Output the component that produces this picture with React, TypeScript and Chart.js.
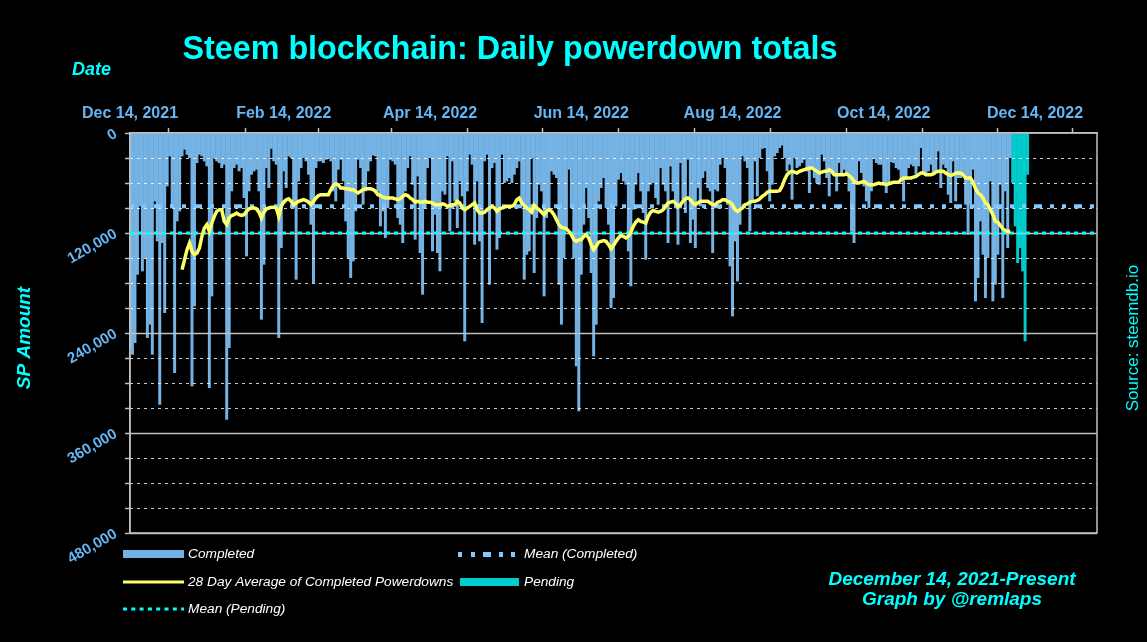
import React, { useEffect, useRef } from 'react';
import { Chart, registerables } from 'chart.js';

Chart.register(...registerables);

const FONT = '"Liberation Sans", Arial, Helvetica, sans-serif';
const CYAN = '#00ffff';
const AXIS_BLUE = '#66b5f5';
const BAR_BLUE = '#74b3e4';
const MEAN_BLUE = '#80c8ff';
const TEAL = '#00cccc';
const YELLOW = '#ffff66';
const GRID_SOLID = '#c0c0c0';

const TITLE = 'Steem blockchain: Daily powerdown totals';
const START_DATE = '2021-12-14';
const END_DATE = '2023-01-08';

// month tick marks on the date axis, every other one labelled
const monthTickDates = [
  '2021-12-14', '2022-01-14', '2022-02-14', '2022-03-14', '2022-04-14', '2022-05-14',
  '2022-06-14', '2022-07-14', '2022-08-14', '2022-09-14', '2022-10-14', '2022-11-14', '2022-12-14',
];
const xTickLabels = [
  'Dec 14, 2021', 'Feb 14, 2022', 'Apr 14, 2022', 'Jun 14, 2022', 'Aug 14, 2022', 'Oct 14, 2022', 'Dec 14, 2022',
];

const yTickValues = [
  0, 30000, 60000, 90000, 120000, 150000, 180000, 210000, 240000,
  270000, 300000, 330000, 360000, 390000, 420000, 450000, 480000,
];
const yLabelledValues = [0, 120000, 240000, 360000, 480000];
const yTickLabels = ['0', '120,000', '240,000', '360,000', '480,000'];

// Completed daily powerdowns, thousands of SP, one per day from Dec 14, 2021
const completedStart = '2021-12-14';
const completedK = [
  258, 266, 252, 170, 88, 166, 150, 246, 230, 266,
  82, 130, 326, 132, 216, 64, 28, 90, 288, 106,
  94, 28, 20, 26, 30, 304, 208, 36, 26, 28,
  34, 40, 306, 196, 30, 34, 36, 42, 38, 344,
  258, 70, 42, 38, 46, 42, 78, 148, 70, 50,
  46, 44, 70, 224, 158, 42, 66, 19, 34, 38,
  246, 138, 46, 66, 28, 30, 90, 176, 58, 42,
  30, 34, 50, 110, 180, 42, 34, 34, 36, 32,
  30, 34, 70, 82, 44, 32, 58, 106, 150, 174,
  154, 94, 32, 42, 86, 70, 46, 34, 27, 28,
  70, 112, 94, 126, 90, 32, 34, 38, 102, 110,
  132, 70, 42, 28, 62, 128, 52, 144, 194, 90,
  42, 30, 142, 98, 144, 166, 70, 74, 28, 118,
  34, 82, 114, 58, 76, 250, 70, 26, 38, 134,
  58, 130, 228, 34, 26, 182, 42, 36, 140, 126,
  26, 60, 58, 54, 60, 50, 42, 34, 82, 176,
  146, 142, 30, 168, 102, 62, 70, 196, 102, 90,
  46, 50, 54, 182, 230, 150, 118, 44, 90, 150,
  280, 334, 170, 110, 66, 102, 168, 268, 230, 82,
  66, 54, 90, 110, 210, 198, 88, 56, 48, 58,
  62, 142, 184, 92, 62, 48, 70, 96, 152, 70,
  62, 60, 78, 86, 42, 62, 70, 132, 40, 70,
  90, 134, 36, 80, 96, 32, 132, 104, 138, 66,
  88, 54, 46, 66, 70, 144, 68, 70, 38, 30,
  42, 86, 160, 220, 130, 178, 110, 28, 34, 42,
  118, 80, 34, 76, 30, 19, 18, 46, 82, 62,
  28, 24, 18, 15, 30, 46, 38, 80, 30, 42,
  40, 36, 32, 46, 72, 42, 54, 60, 62, 26,
  34, 54, 76, 46, 50, 70, 36, 50, 44, 50,
  70, 118, 132, 58, 34, 48, 64, 82, 90, 70,
  30, 36, 38, 38, 60, 72, 60, 35, 36, 42,
  44, 56, 82, 56, 42, 38, 40, 50, 40, 18,
  48, 50, 46, 38, 50, 46, 22, 66, 38, 42,
  74, 84, 34, 82, 54, 54, 50, 86, 122, 86,
  44, 202, 174, 106, 146, 198, 150, 58, 202, 182,
  146, 62, 198, 70, 138, 30,
];

// Pending powerdowns, thousands of SP, one per day from Dec 5, 2022
const pendingStart = '2022-12-05';
const pendingK = [60, 112, 156, 138, 166, 250, 50];

// 28 day average of completed powerdowns, thousands of SP, from Jan 4, 2022
const avgStart = '2022-01-04';
const avgK = [
  164, 152, 140, 132, 142, 146, 144, 138, 124,
  114, 110, 118, 108, 100, 94, 92, 92, 106, 110,
  102, 99, 98, 96, 98, 99, 98, 94, 91, 90,
  90, 91, 95, 102, 95, 91, 90, 89, 89, 90,
  100, 88, 83, 80, 79, 82, 86, 84, 82, 81,
  80, 81, 83, 86, 82, 78, 75, 74, 74, 74,
  74, 68, 63, 61, 62, 66, 66, 67, 67, 68,
  68, 70, 72, 70, 68, 67, 67, 67, 68, 70,
  74, 75, 77, 78, 78, 78, 78, 79, 80, 79,
  76, 74, 75, 78, 80, 83, 82, 83, 83, 82,
  83, 83, 84, 86, 86, 86, 85, 86, 88, 87,
  86, 86, 82, 84, 90, 92, 90, 88, 86, 84,
  92, 96, 96, 95, 92, 90, 88, 90, 94, 91,
  90, 89, 88, 88, 88, 86, 80, 78, 84, 87,
  90, 92, 95, 87, 90, 92, 95, 98, 94, 92,
  94, 98, 104, 110, 113, 114, 115, 118, 122, 128,
  130, 128, 128, 124, 122, 126, 134, 140, 136, 131,
  130, 129, 130, 134, 139, 135, 130, 126, 123, 124,
  126, 124, 119, 112, 107, 104, 106, 107, 108, 100,
  95, 93, 94, 95, 94, 92, 88, 84, 83, 82,
  84, 88, 86, 82, 79, 78, 80, 84, 86, 84,
  82, 82, 82, 82, 84, 86, 86, 83, 82, 80,
  80, 82, 83, 86, 92, 94, 92, 90, 86, 85,
  83, 82, 82, 81, 79, 76, 74, 71, 70, 70,
  70, 70, 69, 64, 56, 50, 47, 46, 47, 48,
  46, 45, 44, 43, 42, 42, 44, 46, 48, 47,
  46, 46, 44, 46, 50, 50, 50, 50, 50, 49,
  51, 54, 58, 60, 60, 59, 58, 60, 62, 62,
  62, 61, 60, 61, 61, 62, 61, 60, 59, 59,
  59, 56, 54, 54, 54, 54, 53, 52, 50, 48,
  48, 50, 50, 50, 49, 47, 46, 46, 46, 48,
  50, 51, 50, 48, 48, 48, 50, 54, 54, 54,
  59, 67, 72, 74, 78, 84, 86, 92, 98, 106,
  107, 111, 115, 117, 118, 118,
];

const meanCompleted = 88000;
const meanPending = 120000;

const DAY_MS = 86400000;
const dayIndex = (iso: string) =>
  Math.round((Date.parse(iso + 'T00:00:00Z') - Date.parse(START_DATE + 'T00:00:00Z')) / DAY_MS);

const LAST_DAY = dayIndex(END_DATE);
const monthTickIdx = monthTickDates.map(dayIndex);

const series = (startIso: string, valuesK: number[]) => {
  const s = dayIndex(startIso);
  return valuesK.map((v, i) => ({ x: s + i, y: v * 1000 }));
};

const frontGridPlugin = {
  id: 'frontGrid',
  afterDatasetDraw(chart: any, args: any) {
    if (args.index !== 3) return;
    const { ctx, chartArea } = chart;
    const y = chart.scales.y;
    ctx.save();
    for (const v of yTickValues) {
      if (v === 0) continue;
      const py = Math.round(y.getPixelForValue(v)) + 0.5;
      ctx.beginPath();
      if (yLabelledValues.includes(v)) {
        ctx.setLineDash([]);
        ctx.strokeStyle = GRID_SOLID;
        ctx.lineWidth = 1.5;
      } else {
        ctx.setLineDash([3, 4]);
        ctx.strokeStyle = 'rgba(255,255,255,0.8)';
        ctx.lineWidth = 1;
      }
      ctx.moveTo(chartArea.left, py);
      ctx.lineTo(chartArea.right, py);
      ctx.stroke();
    }
    ctx.setLineDash([]);
    ctx.strokeStyle = GRID_SOLID;
    ctx.lineWidth = 1.5;
    ctx.strokeRect(chartArea.left, chartArea.top, chartArea.right - chartArea.left, chartArea.bottom - chartArea.top);
    ctx.restore();
  },
};

const textPlugin = {
  id: 'texts',
  afterDraw(chart: any) {
    const ctx = chart.ctx;
    ctx.save();
    ctx.fillStyle = CYAN;
    ctx.textBaseline = 'alphabetic';
    ctx.textAlign = 'center';
    ctx.font = `bold 32.3px ${FONT}`;
    ctx.fillText(TITLE, 510, 59);

    ctx.textAlign = 'left';
    ctx.font = `italic bold 18px ${FONT}`;
    ctx.fillText('Date', 72, 75);

    ctx.save();
    ctx.translate(25, 338);
    ctx.rotate(-Math.PI / 2);
    ctx.textAlign = 'center';
    ctx.textBaseline = 'middle';
    ctx.font = `italic bold 19px ${FONT}`;
    ctx.fillText('SP Amount', 0, 0);
    ctx.restore();

    ctx.save();
    ctx.translate(1133, 338);
    ctx.rotate(-Math.PI / 2);
    ctx.textAlign = 'center';
    ctx.textBaseline = 'middle';
    ctx.font = `17px ${FONT}`;
    ctx.fillText('Source: steemdb.io', 0, 0);
    ctx.restore();

    ctx.textAlign = 'center';
    ctx.font = `italic bold 19px ${FONT}`;
    ctx.fillText('December 14, 2021-Present', 952, 585);
    ctx.fillText('Graph by @remlaps', 952, 605);

    // legend
    ctx.textAlign = 'left';
    ctx.textBaseline = 'middle';
    ctx.font = `italic 13.7px ${FONT}`;
    // row 1
    ctx.fillStyle = BAR_BLUE;
    ctx.fillRect(123, 550, 61, 8);
    ctx.fillStyle = '#ffffff';
    ctx.fillText('Completed', 188, 554);
    ctx.fillStyle = MEAN_BLUE;
    [[458, 4], [471, 4], [483, 8], [499, 4], [511, 4]].forEach(([x, w]) => ctx.fillRect(x, 552, w, 5));
    ctx.fillStyle = '#ffffff';
    ctx.fillText('Mean (Completed)', 524, 554);
    // row 2
    ctx.strokeStyle = YELLOW;
    ctx.lineWidth = 3;
    ctx.beginPath();
    ctx.moveTo(123, 582);
    ctx.lineTo(184, 582);
    ctx.stroke();
    ctx.fillStyle = '#ffffff';
    ctx.fillText('28 Day Average of Completed Powerdowns', 188, 582);
    ctx.fillStyle = TEAL;
    ctx.fillRect(460, 578, 59, 8);
    ctx.fillStyle = '#ffffff';
    ctx.fillText('Pending', 524, 582);
    // row 3
    ctx.strokeStyle = CYAN;
    ctx.setLineDash([4, 4.3]);
    ctx.beginPath();
    ctx.moveTo(123, 609);
    ctx.lineTo(184, 609);
    ctx.stroke();
    ctx.setLineDash([]);
    ctx.fillStyle = '#ffffff';
    ctx.fillText('Mean (Pending)', 188, 609);
    ctx.restore();
  },
};

export default function App() {
  const canvasRef = useRef<HTMLCanvasElement | null>(null);

  useEffect(() => {
    document.body.style.margin = '0';
    document.body.style.background = '#000';
    const canvas = canvasRef.current;
    if (!canvas) return;

    const chart = new Chart(canvas, {
      type: 'bar',
      data: {
        datasets: [
          {
            type: 'line',
            label: '28 Day Average of Completed Powerdowns',
            data: series(avgStart, avgK),
            borderColor: YELLOW,
            borderWidth: 3.5,
            pointRadius: 0,
            tension: 0,
            order: 1,
          },
          {
            type: 'line',
            label: 'Mean (Pending)',
            data: [{ x: 0, y: meanPending }, { x: LAST_DAY, y: meanPending }],
            borderColor: CYAN,
            borderWidth: 3,
            borderDash: [4, 4],
            pointRadius: 0,
            order: 2,
          },
          {
            type: 'line',
            label: 'Mean (Completed)',
            data: [{ x: 0, y: meanCompleted }, { x: LAST_DAY, y: meanCompleted }],
            borderColor: MEAN_BLUE,
            borderWidth: 4,
            borderDash: [8, 8, 4, 8, 4, 8],
            borderDashOffset: 16,
            pointRadius: 0,
            order: 3,
          },
          {
            type: 'bar',
            label: 'Completed',
            data: series(completedStart, completedK),
            backgroundColor: BAR_BLUE,
            borderWidth: 0,
            barPercentage: 1.2,
            categoryPercentage: 1,
            grouped: false,
            order: 4,
          },
          {
            type: 'bar',
            label: 'Pending',
            data: series(pendingStart, pendingK),
            backgroundColor: TEAL,
            borderWidth: 0,
            barPercentage: 1.2,
            categoryPercentage: 1,
            grouped: false,
            order: 5,
          },
        ],
      } as any,
      options: {
        responsive: false,
        animation: false,
        devicePixelRatio: 1,
        events: [],
        layout: { padding: { left: 0, top: 0, right: 50, bottom: 109 } },
        plugins: {
          legend: { display: false },
          tooltip: { enabled: false },
          title: { display: false },
        },
        scales: {
          x: {
            type: 'linear',
            position: 'top',
            min: 0,
            max: LAST_DAY,
            offset: false,
            afterBuildTicks: (axis: any) => {
              axis.ticks = monthTickIdx.map((v) => ({ value: v }));
            },
            afterFit: (axis: any) => {
              axis.height = 133;
            },
            grid: {
              drawOnChartArea: false,
              drawTicks: true,
              tickLength: 5,
              tickColor: GRID_SOLID,
              tickWidth: 1.5,
            },
            border: { display: true, color: GRID_SOLID, width: 1.5 },
            ticks: {
              autoSkip: false,
              minRotation: 0,
              maxRotation: 0,
              padding: 5,
              color: AXIS_BLUE,
              font: { family: FONT, size: 16, weight: 'bold' },
              callback: (value: any) => {
                const i = monthTickIdx.indexOf(value);
                return i >= 0 && i % 2 === 0 ? xTickLabels[i / 2] : '';
              },
            },
          },
          y: {
            type: 'linear',
            position: 'left',
            min: 0,
            max: 480000,
            reverse: true,
            afterBuildTicks: (axis: any) => {
              axis.ticks = yTickValues.map((v) => ({ value: v }));
            },
            afterFit: (axis: any) => {
              axis.width = 130;
            },
            grid: {
              drawOnChartArea: false,
              drawTicks: true,
              tickLength: 5,
              tickColor: GRID_SOLID,
              tickWidth: 1.5,
            },
            border: { display: true, color: GRID_SOLID, width: 1.5 },
            ticks: {
              minRotation: 30,
              maxRotation: 30,
              padding: 9,
              color: AXIS_BLUE,
              font: { family: FONT, size: 15, weight: 'bold' },
              callback: (value: any) => {
                const i = yLabelledValues.indexOf(value);
                return i >= 0 ? yTickLabels[i] : '';
              },
            },
          },
        },
      } as any,
      plugins: [frontGridPlugin, textPlugin],
    });

    return () => chart.destroy();
  }, []);

  return (
    <div style={{ position: 'fixed', left: 0, top: 0, width: 1147, height: 642, background: '#000' }}>
      <canvas ref={canvasRef} width={1147} height={642} style={{ display: 'block' }} />
    </div>
  );
}
